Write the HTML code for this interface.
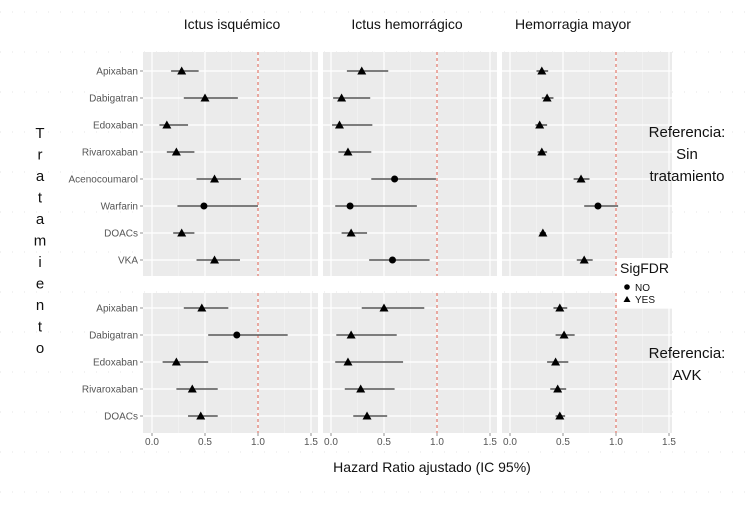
<!DOCTYPE html>
<html><head><meta charset="utf-8"><style>
html,body{margin:0;padding:0;background:#fff;}
svg text{font-family:"Liberation Sans",sans-serif;}
</style></head><body>
<svg id="chart" width="750" height="500" xmlns="http://www.w3.org/2000/svg"></svg>
<script>
const outcomes = ["Ictus isquémico","Ictus hemorrágico","Hemorragia mayor"];
const topCats = ["Apixaban","Dabigatran","Edoxaban","Rivaroxaban","Acenocoumarol","Warfarin","DOACs","VKA"];
const botCats = ["Apixaban","Dabigatran","Edoxaban","Rivaroxaban","DOACs"];
const xTicks = [0,0.5,1,1.5];
const xTickLabels = ["0.0","0.5","1.0","1.5"];
// top block (Referencia: Sin tratamiento): per outcome [hr, lo, hi, sig]
const topHR = [[0.28,0.50,0.14,0.23,0.59,0.49,0.28,0.59],[0.29,0.10,0.08,0.16,0.60,0.18,0.19,0.58],[0.30,0.35,0.28,0.30,0.67,0.83,0.31,0.70]];
const topLo = [[0.18,0.30,0.07,0.14,0.42,0.24,0.20,0.42],[0.15,0.02,0.01,0.07,0.38,0.04,0.10,0.36],[0.25,0.30,0.24,0.26,0.60,0.70,0.28,0.63]];
const topHi = [[0.44,0.81,0.34,0.40,0.84,1.00,0.40,0.83],[0.54,0.37,0.39,0.38,0.99,0.81,0.34,0.93],[0.36,0.41,0.35,0.35,0.75,1.02,0.34,0.78]];
const topSig = [[1,1,1,1,1,0,1,1],[1,1,1,1,0,0,1,0],[1,1,1,1,1,0,1,1]];
// bottom block (Referencia: AVK)
const botHR = [[0.47,0.80,0.23,0.38,0.46],[0.50,0.19,0.16,0.28,0.34],[0.47,0.51,0.43,0.45,0.47]];
const botLo = [[0.30,0.53,0.10,0.23,0.34],[0.29,0.05,0.04,0.13,0.21],[0.41,0.43,0.35,0.38,0.43]];
const botHi = [[0.72,1.28,0.53,0.62,0.62],[0.88,0.62,0.68,0.60,0.53],[0.54,0.61,0.55,0.53,0.52]];
const botSig = [[1,0,1,1,1],[1,1,1,1,1],[1,1,1,1,1]];

const NS="http://www.w3.org/2000/svg";
const svg=document.getElementById('chart');
function mk(tag,attrs,parent){const e=document.createElementNS(NS,tag);for(const k in attrs)e.setAttribute(k,attrs[k]);(parent||svg).appendChild(e);return e;}

// faint dotted background grid
for(let y=12;y<500;y+=40){const l=mk('line',{x1:0,y1:y,x2:750,y2:y,stroke:'#ccc','stroke-width':0.6,'stroke-dasharray':'1 11'});

}

const cols=[{l:143,r:318,x0:152},{l:323,r:497,x0:331},{l:502,r:672,x0:510}];
const unit=106;
const blocks=[{top:52,bot:276,cats:topCats,hr:topHR,lo:topLo,hi:topHi,sig:topSig,y0:71,step:27},
              {top:293,bot:433,cats:botCats,hr:botHR,lo:botLo,hi:botHi,sig:botSig,y0:308,step:27}];
function xs(c,v){return cols[c].x0+v*unit;}

blocks.forEach((b,bi)=>{
  const ys=i=>b.y0+i*b.step;
  cols.forEach((c,ci)=>{
    const g=mk('g',{});
    
    
    mk('rect',{x:c.l,y:b.top,width:c.r-c.l,height:b.bot-b.top,fill:'#ebebeb'},g);
    [0.25,0.75,1.25].forEach(t=>{const x=xs(ci,t);if(x<c.r)mk('line',{x1:x,y1:b.top,x2:x,y2:b.bot,stroke:'#f5f5f5','stroke-width':0.6},g);});
    xTicks.forEach(t=>{const x=xs(ci,t);if(x<c.r)mk('line',{x1:x,y1:b.top,x2:x,y2:b.bot,stroke:'#fff','stroke-width':1.2},g);});
    b.cats.forEach((n,i)=>mk('line',{x1:c.l,y1:ys(i),x2:c.r,y2:ys(i),stroke:'#fff','stroke-width':1.2},g));
    const ref=mk('line',{x1:xs(ci,1),y1:b.top,x2:xs(ci,1),y2:b.bot,stroke:'#e06050','stroke-width':1,'stroke-dasharray':'3 3'},g);
    
    
    b.cats.forEach((n,i)=>{
      const y=ys(i);
      const ci_=mk('line',{x1:xs(ci,b.lo[ci][i]),y1:y,x2:xs(ci,b.hi[ci][i]),y2:y,stroke:'#555','stroke-width':1.6},g);
      
      
      const x=xs(ci,b.hr[ci][i]);
      let p;
      if(b.sig[ci][i]) p=mk('polygon',{points:`${x},${y-4.5} ${x-4.5},${y+3.5} ${x+4.5},${y+3.5}`,fill:'#000'},g);
      else p=mk('circle',{cx:x,cy:y,r:3.5,fill:'#000'},g);
      
      
    });
  });
  b.cats.forEach((n,i)=>{
    const t=mk('text',{x:138,y:ys(i)+3.5,'text-anchor':'end','font-size':10,fill:'#555'});
    t.textContent=n;
    
    
    mk('line',{x1:140,y1:ys(i),x2:143,y2:ys(i),stroke:'#777','stroke-width':0.8});
  });
});

// x ticks
cols.forEach((c,ci)=>{xTicks.forEach((t,k)=>{const x=xs(ci,t);
  mk('line',{x1:x,y1:433,x2:x,y2:436,stroke:'#777','stroke-width':0.8});
  const tx=mk('text',{x:x,y:445,'text-anchor':'middle','font-size':10,fill:'#555'});
  tx.textContent=xTickLabels[k];
  
  });});

// titles
const tpos=[232,407,573];
outcomes.forEach((o,i)=>{const t=mk('text',{x:tpos[i],y:29,'text-anchor':'middle','font-size':14,fill:'#111'});
t.textContent=o;

});

// y title letters
"Tratamiento".split('').forEach((ch,i)=>{const t=mk('text',{x:40,y:138+i*21.5,'text-anchor':'middle','font-size':15,fill:'#111'});
t.textContent=ch;

});

// x title
const xt=mk('text',{x:432,y:472,'text-anchor':'middle','font-size':14,fill:'#111'});
xt.textContent="Hazard Ratio ajustado (IC 95%)";



// row labels
[["Referencia:",137],["Sin",159],["tratamiento",181],["Referencia:",358],["AVK",380]].forEach(([s,y])=>{
  const t=mk('text',{x:687,y:y,'text-anchor':'middle','font-size':15,fill:'#111'});
  t.textContent=s;
  
  });

// legend
const lg=mk('g',{});


mk('rect',{x:617,y:258,width:58,height:50,fill:'#fff'},lg);
const lt=mk('text',{x:620,y:273,'font-size':14,fill:'#111'},lg);lt.textContent="SigFDR";
mk('circle',{cx:627,cy:287,r:2.8,fill:'#000'},lg);
const l1=mk('text',{x:635,y:291,'font-size':10,fill:'#111'},lg);l1.textContent="NO";
mk('polygon',{points:"627,296 623.5,302 630.5,302",fill:'#000'},lg);
const l2=mk('text',{x:635,y:303,'font-size':10,fill:'#111'},lg);l2.textContent="YES";
</script>
</body></html>
